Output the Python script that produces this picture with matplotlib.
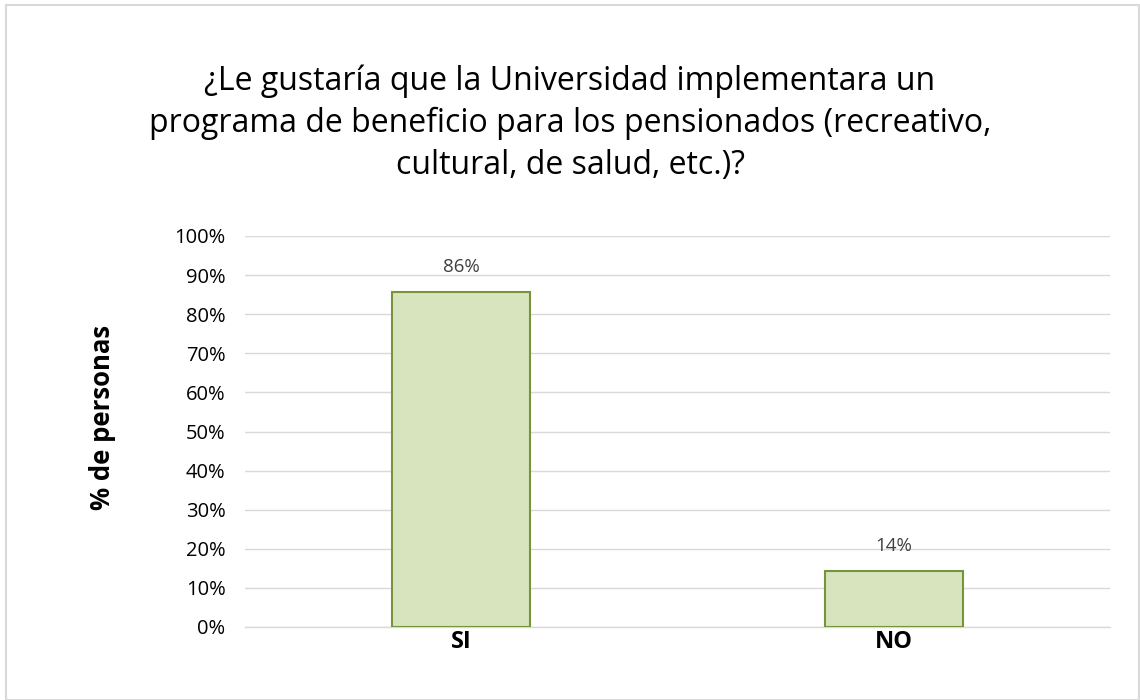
import matplotlib
matplotlib.use("Agg")
import matplotlib.pyplot as plt
from matplotlib.patches import Rectangle

categories = ["SI", "NO"]
values = [85.7, 14.3]
labels = ["86%", "14%"]
yticks = [0, 10, 20, 30, 40, 50, 60, 70, 80, 90, 100]

plt.rcParams['font.family'] = ['Open Sans', 'DejaVu Sans']

fig = plt.figure(figsize=(11.4, 7.0), dpi=100)
fig.patches.append(Rectangle((6/1140, 0), 1133/1140, 695/700, transform=fig.transFigure,
                             fill=False, edgecolor="#d9d9d9", linewidth=1.5))

ax = fig.add_axes([245/1140, 1-627/700, 865/1140, 391/700])
x = list(range(len(categories)))
ax.bar(x, values, width=0.32, color="#d7e4bd", edgecolor="#77933c", linewidth=1.5, zorder=3)
for xi, v, lab in zip(x, values, labels):
    ax.text(xi, v + 4, lab, ha="center", va="bottom", fontsize=13.5, color="#404040")

ax.set_xlim(-0.5, 1.5)
ax.set_ylim(0, 100)
ax.set_yticks(yticks)
ax.set_yticklabels([f"{t}%" for t in yticks], fontsize=14.5, color="#000000")
ax.set_xticks(x)
ax.set_xticklabels(categories, fontsize=17, fontweight="bold")
ax.tick_params(axis="y", length=0, pad=14)
ax.tick_params(axis="x", length=0, pad=2)
ax.grid(axis="y", color="#d9d9d9", linewidth=1, zorder=0)
for s in ["top", "right", "left"]:
    ax.spines[s].set_visible(False)
ax.spines["bottom"].set_color("#d9d9d9")
ax.spines["bottom"].set_linewidth(1)

ax.set_ylabel("% de personas", fontsize=18.5, fontweight="bold", va="center")
ax.yaxis.set_label_coords((103 - 245) / 865, (627 - 417) / 391)

fig.text(0.5, 1-123/700, "¿Le gustaría que la Universidad implementara un\nprograma de beneficio para los pensionados (recreativo,\ncultural, de salud, etc.)?",
         ha="center", va="center", fontsize=23, linespacing=1.36, color="#000000")

fig.savefig("out.png", dpi=100)
